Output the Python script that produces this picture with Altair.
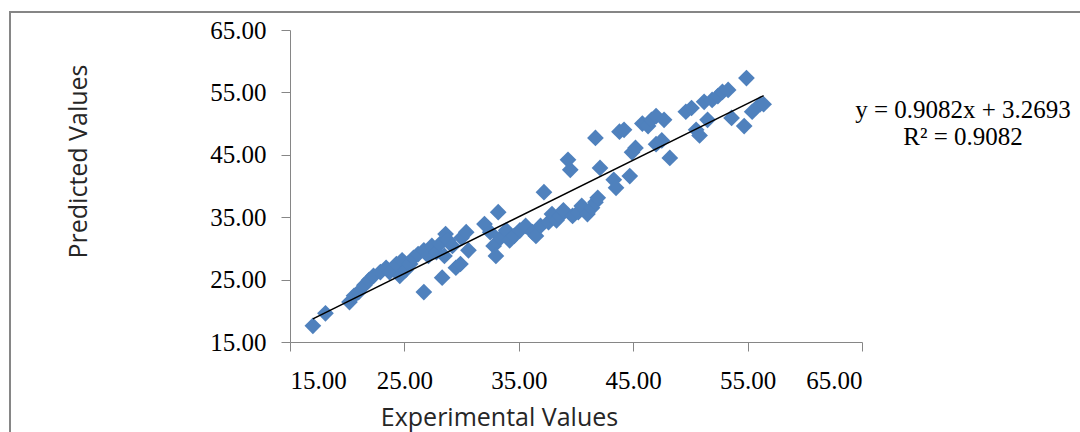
import altair as alt
import pandas as pd

# Experimental (x) vs predicted (y) values
experimental = [17.0, 18.1, 20.2, 20.6, 21.0, 21.5, 21.9, 22.3, 22.9, 23.4, 23.7, 24.3, 24.6, 24.8,
                25.1, 25.5, 25.8, 26.2, 26.7, 26.7, 27.1, 27.4, 27.8, 28.1, 28.3, 28.5, 28.6, 28.8,
                29.2, 29.5, 29.9, 30.0, 30.4, 30.6, 32.0, 32.5, 32.8, 33.0, 33.2, 33.4, 33.9, 34.2,
                34.6, 35.1, 35.6, 36.2, 36.5, 36.9, 37.2, 37.6, 37.9, 38.3, 38.6, 38.9, 39.3, 39.5,
                39.7, 40.2, 40.5, 41.0, 41.4, 41.7, 41.9, 41.7, 42.1, 43.3, 43.5, 43.8, 44.2, 44.7,
                44.9, 45.2, 45.8, 46.3, 46.6, 47.0, 47.0, 47.5, 47.7, 48.2, 49.6, 50.1, 50.5, 50.8,
                51.2, 51.5, 51.9, 52.4, 52.8, 53.3, 53.6, 54.9, 54.7, 55.4, 56.1, 56.4]
predicted = [17.6, 19.6, 21.4, 22.4, 23.0, 24.1, 24.9, 25.6, 26.2, 26.9, 26.2, 27.5, 25.6, 28.1,
             26.5, 27.5, 28.5, 29.1, 29.7, 23.0, 28.8, 30.4, 29.4, 30.7, 25.3, 28.8, 32.3, 31.3,
             30.4, 26.9, 27.5, 31.7, 32.6, 29.7, 33.9, 32.6, 30.4, 28.8, 35.8, 31.7, 32.9, 31.3,
             32.0, 32.9, 33.6, 32.6, 32.0, 33.6, 39.0, 34.2, 35.5, 34.5, 35.2, 36.1, 44.2, 42.6,
             35.2, 35.8, 36.8, 35.5, 36.5, 37.4, 38.1, 47.7, 42.9, 41.0, 39.7, 48.7, 49.0, 41.6,
             45.4, 46.1, 50.0, 49.6, 50.6, 51.2, 46.7, 47.3, 50.6, 44.5, 51.9, 52.5, 49.0, 48.1,
             53.5, 50.6, 53.8, 54.4, 55.1, 55.4, 50.9, 57.3, 49.6, 51.9, 53.1, 53.1]

slope = 0.9082
intercept = 3.2693
equation_lines = ["y = 0.9082x + 3.2693", "R² = 0.9082"]
axis_ticks = [15, 25, 35, 45, 55, 65]

df = pd.DataFrame({"x": experimental, "y": predicted})
xmin, xmax = min(experimental), max(experimental)
trend = pd.DataFrame({"x": [xmin, xmax], "y": [slope * xmin + intercept, slope * xmax + intercept]})

xscale = alt.Scale(domain=[15, 65], nice=False, zero=False)
yscale = alt.Scale(domain=[15, 65], nice=False, zero=False)

AXIS_GREY = "#868686"

xaxis = alt.Axis(values=axis_ticks, format=".2f", grid=False, title="Experimental Values",
                 labelFont="Liberation Serif", labelFontSize=25, labelColor="#000000",
                 labelPadding=17, tickSize=9, tickColor=AXIS_GREY, domainColor=AXIS_GREY,
                 titleFont="Open Sans", titleFontSize=25, titleFontWeight="normal",
                 titleColor="#262626", titleX=209, titleY=83, titleBaseline="alphabetic",
                 titleAlign="center")
yaxis = alt.Axis(values=axis_ticks, format=".2f", grid=False, title="Predicted Values",
                 labelFont="Liberation Serif", labelFontSize=25, labelColor="#000000",
                 labelPadding=15, tickSize=9, tickColor=AXIS_GREY, domainColor=AXIS_GREY,
                 titleFont="Open Sans", titleFontSize=25, titleFontWeight="normal",
                 titleColor="#262626", titleX=-212, titleY=131, titleBaseline="middle",
                 titleAlign="center", titleAngle=270)

border = alt.Chart(pd.DataFrame({"k": [0]})).mark_rect(
    fillOpacity=0, stroke=AXIS_GREY, strokeWidth=2
).encode(x=alt.value(-280), x2=alt.value(830), y=alt.value(-18), y2=alt.value(440))

points = alt.Chart(df).mark_point(
    shape="diamond", filled=True, size=280, color="#4F81BD", opacity=1
).encode(x=alt.X("x:Q", scale=xscale, axis=xaxis), y=alt.Y("y:Q", scale=yscale, axis=yaxis))

line = alt.Chart(trend).mark_line(color="#000000", strokeWidth=1.5).encode(
    x=alt.X("x:Q", scale=xscale), y=alt.Y("y:Q", scale=yscale))

eq = alt.Chart(pd.DataFrame({"k": [0]})).mark_text(
    font="Liberation Serif", fontSize=25, align="center", baseline="alphabetic",
    lineHeight=27, color="#000000"
).encode(x=alt.value(673), y=alt.value(88), text=alt.value(equation_lines))

chart = alt.layer(border, points, line, eq).properties(
    width=572, height=312,
    autosize=alt.AutoSizeParams(type="none"),
    padding={"left": 290, "top": 30, "right": 218, "bottom": 90},
).configure_view(stroke=None)

chart.save("out.html", embed_options={"renderer": "svg", "actions": False})
